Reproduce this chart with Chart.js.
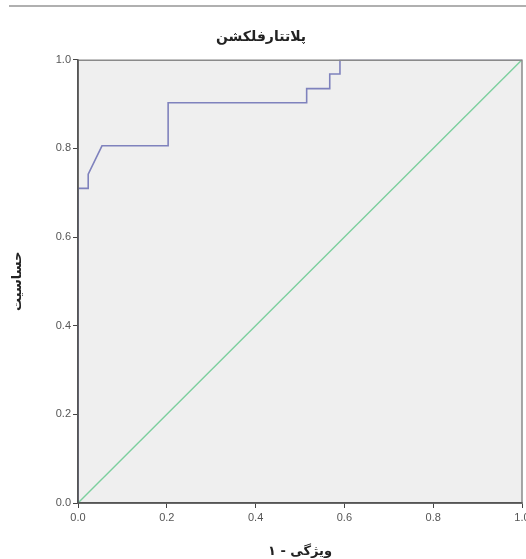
<!DOCTYPE html>
<html>
<head>
<meta charset="utf-8">
<script src="https://cdn.jsdelivr.net/npm/chart.js@4"></script>
<style>
  html, body { margin: 0; padding: 0; background: #fff; }
  #wrap { width: 526px; height: 559px; position: relative; }
</style>
</head>
<body>
<div id="wrap"><canvas id="rocChart"></canvas></div>
<script>
// ROC curve points (1 - specificity, sensitivity)
const rocX = [0, 0, 0.023, 0.023, 0.054, 0.203, 0.203, 0.515, 0.515, 0.567, 0.567, 0.59, 0.59, 1];
const rocY = [0, 0.71, 0.71, 0.742, 0.806, 0.806, 0.903, 0.903, 0.935, 0.935, 0.968, 0.968, 1, 1];
const refX = [0, 1];
const refY = [0, 1];
const tickValues = [0, 0.2, 0.4, 0.6, 0.8, 1.0];

const chartTitle = 'پلاتتارفلکشن';
const xTitle = 'ویژگی - ۱';
const yTitle = 'حساسیت';

const persianFont = "'DejaVu Sans', sans-serif";

const plotBackground = {
  id: 'plotBackground',
  beforeDraw(chart) {
    const { ctx, chartArea: a } = chart;
    ctx.save();
    ctx.fillStyle = '#efefef';
    ctx.fillRect(a.left, a.top, a.right - a.left, a.bottom - a.top);
    // thin rule across the very top of the picture
    ctx.strokeStyle = '#b0b0b0';
    ctx.lineWidth = 2;
    ctx.beginPath();
    ctx.moveTo(9, 6);
    ctx.lineTo(chart.width, 6);
    ctx.stroke();
    ctx.restore();
  },
  afterDatasetsDraw(chart) {
    const { ctx, chartArea: a } = chart;
    ctx.save();
    ctx.strokeStyle = '#8a8a8a';
    ctx.lineWidth = 1.5;
    ctx.beginPath();
    ctx.moveTo(a.left, a.top + 0.5);
    ctx.lineTo(a.right, a.top + 0.5);
    ctx.lineTo(a.right, a.bottom);
    ctx.stroke();
    // axis lines sit on top of the curve
    ctx.strokeStyle = '#555';
    ctx.beginPath();
    ctx.moveTo(a.left, a.top);
    ctx.lineTo(a.left, a.bottom);
    ctx.lineTo(a.right, a.bottom);
    ctx.stroke();
    ctx.restore();
  }
};

const ctx = document.getElementById('rocChart').getContext('2d');

const rocChart = new Chart(ctx, {
  type: 'scatter',
  data: {
    datasets: [
      {
        label: 'ROC',
        data: rocX.map((x, i) => ({ x: x, y: rocY[i] })),
        showLine: true,
        borderColor: '#7f82bd',
        borderWidth: 1.6,
        pointRadius: 0,
        tension: 0,
        fill: false
      },
      {
        label: 'Reference',
        data: refX.map((x, i) => ({ x: x, y: refY[i] })),
        showLine: true,
        borderColor: '#7ccf9e',
        borderWidth: 1.4,
        pointRadius: 0,
        fill: false
      }
    ]
  },
  options: {
    responsive: true,
    maintainAspectRatio: false,
    animation: false,
    layout: { padding: { left: 0, right: 4, top: 0, bottom: 0 } },
    plugins: {
      legend: { display: false },
      tooltip: { enabled: false },
      title: {
        display: true,
        text: chartTitle,
        color: '#222',
        font: { family: persianFont, size: 14, weight: 'bold' },
        padding: { top: 29, bottom: 14 }
      }
    },
    scales: {
      x: {
        type: 'linear',
        min: 0,
        max: 1,
        afterBuildTicks: (scale) => { scale.ticks = tickValues.map(v => ({ value: v })); },
        afterFit: (scale) => { scale.height = 56; scale.paddingLeft = 0; scale.paddingRight = 0; },
        border: { color: '#555', width: 1.5 },
        grid: { drawOnChartArea: false, drawTicks: true, tickLength: 5, color: '#444' },
        ticks: {
          color: '#555',
          padding: 3,
          font: { family: 'Arial, Liberation Sans, sans-serif', size: 11 },
          maxRotation: 0,
          callback: (v) => Number(v).toFixed(1)
        },
        title: {
          display: true,
          text: xTitle,
          color: '#222',
          font: { family: persianFont, size: 13, weight: 'bold' },
          padding: { top: 6, bottom: 0 }
        }
      },
      y: {
        type: 'linear',
        min: 0,
        max: 1,
        afterBuildTicks: (scale) => { scale.ticks = tickValues.map(v => ({ value: v })); },
        afterFit: (scale) => { scale.width = 78; },
        border: { color: '#555', width: 1.5 },
        grid: { drawOnChartArea: false, drawTicks: true, tickLength: 5, color: '#444' },
        ticks: {
          color: '#555',
          padding: 2,
          font: { family: 'Arial, Liberation Sans, sans-serif', size: 11 },
          callback: (v) => Number(v).toFixed(1)
        },
        title: {
          display: true,
          text: yTitle,
          color: '#222',
          font: { family: persianFont, size: 13, weight: 'bold' },
          padding: { top: 10, bottom: 0 }
        }
      }
    }
  },
  plugins: [plotBackground]
});
</script>
</body>
</html>
